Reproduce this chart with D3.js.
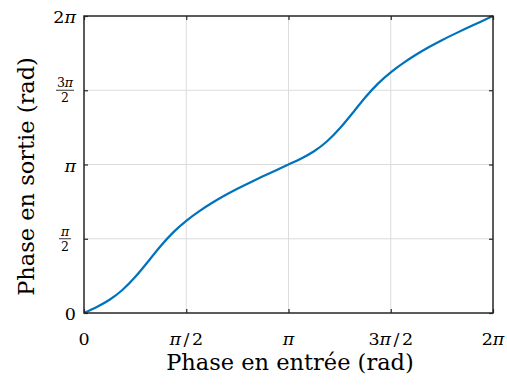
<!DOCTYPE html>
<html>
<head>
<meta charset="utf-8">
<script src="https://cdn.jsdelivr.net/npm/d3@7"></script>
<style>
  html, body { margin: 0; padding: 0; background: #fff; }
  svg { display: block; }
</style>
</head>
<body>
<svg id="chart" width="507" height="385"></svg>
<script>
// ---- data ----
const PI = Math.PI;
// input phase, in units of pi/16
const inputSteps = [0,1,2,3,4,5,6,7,8,9,10,11,12,13,14,15,16,17,18,19,20,21,22,23,24,25,26,27,28,29,30,31,32];
// output phase (rad)
const outputPhase = [0.000,0.127,0.280,0.486,0.760,1.084,1.417,1.711,1.950,2.150,2.326,2.485,2.630,2.763,2.891,3.016,3.1416,
                     3.269,3.422,3.628,3.902,4.226,4.559,4.853,5.092,5.292,5.468,5.627,5.772,5.905,6.033,6.158,6.2832];
const xTickValues = [0, PI/2, PI, 3*PI/2, 2*PI];
const xTickLabels = ["0", "π/2", "π", "3π/2", "2π"];
const yTickValues = [0, PI/2, PI, 3*PI/2, 2*PI];
const yTickLabels = ["0", "π/2", "π", "3π/2", "2π"];
const xTitle = "Phase en entrée (rad)";
const yTitle = "Phase en sortie (rad)";

const FONT = "'DejaVu Serif', 'Liberation Serif', serif";

// ---- layout ----
const svg = d3.select("#chart");
const L = 84, R = 493, T = 16, B = 313;
const x = d3.scaleLinear().domain([0, 2*PI]).range([L, R]);
const y = d3.scaleLinear().domain([0, 2*PI]).range([B, T]);

// grid
const grid = svg.append("g");
grid.selectAll("line.gx").data(xTickValues.slice(1, -1)).join("line")
  .attr("x1", d => x(d)).attr("x2", d => x(d)).attr("y1", T).attr("y2", B)
  .attr("stroke", "#dcdcdc").attr("stroke-width", 1);
grid.selectAll("line.gy").data(yTickValues.slice(1, -1)).join("line")
  .attr("y1", d => y(d)).attr("y2", d => y(d)).attr("x1", L).attr("x2", R)
  .attr("stroke", "#dcdcdc").attr("stroke-width", 1);

// curve
const pts = inputSteps.map((k, i) => [k * PI / 16, outputPhase[i]]);
svg.append("path").datum(pts)
  .attr("fill", "none").attr("stroke", "#0072BD").attr("stroke-width", 2.2)
  .attr("d", d3.line().x(d => x(d[0])).y(d => y(d[1])).curve(d3.curveNatural));

// axes (inward ticks, all 4 sides)
function styleAxis(g) {
  g.selectAll("path.domain").remove();
  g.selectAll(".tick line").attr("stroke", "#262626").attr("stroke-width", 1.2);
  g.selectAll(".tick text").remove();
}
svg.append("g").attr("transform", `translate(0,${B})`)
  .call(d3.axisBottom(x).tickValues(xTickValues).tickSize(-4).tickSizeOuter(0)).call(styleAxis);
svg.append("g").attr("transform", `translate(0,${T})`)
  .call(d3.axisTop(x).tickValues(xTickValues).tickSize(-4).tickSizeOuter(0)).call(styleAxis);
svg.append("g").attr("transform", `translate(${L},0)`)
  .call(d3.axisLeft(y).tickValues(yTickValues).tickSize(-4).tickSizeOuter(0)).call(styleAxis);
svg.append("g").attr("transform", `translate(${R},0)`)
  .call(d3.axisRight(y).tickValues(yTickValues).tickSize(-4).tickSizeOuter(0)).call(styleAxis);

svg.append("rect").attr("x", L).attr("y", T).attr("width", R - L).attr("height", B - T)
  .attr("fill", "none").attr("stroke", "#262626").attr("stroke-width", 1.5);

// math text helper: pi italic, spaced slash
function mathText(sel, str) {
  let afterSlash = false;
  for (const ch of str) {
    const t = sel.append("tspan").text(ch);
    if (ch === "π") t.attr("font-style", "italic");
    if (ch === "/") { t.attr("dx", 2.5); afterSlash = true; }
    else if (afterSlash) { t.attr("dx", 2.5); afterSlash = false; }
  }
}

// x tick labels
xTickValues.forEach((v, i) => {
  const t = svg.append("text").attr("x", x(v)).attr("y", 345)
    .attr("text-anchor", "middle").attr("font-family", FONT).attr("font-size", 17.5);
  mathText(t, xTickLabels[i]);
});

// y tick labels (fractions stacked)
yTickValues.forEach((v, i) => {
  const s = yTickLabels[i];
  const cy = y(v);
  if (s.indexOf("/") >= 0) {
    const [num, den] = s.split("/");
    const cx = 65;
    const hw = num.length > 1 ? 9 : 6;
    const nt = svg.append("text").attr("x", cx).attr("y", cy - 3).attr("text-anchor", "middle")
      .attr("font-family", FONT).attr("font-size", 12.5);
    mathText(nt, num);
    svg.append("line").attr("x1", cx - hw).attr("x2", cx + hw)
      .attr("y1", cy).attr("y2", cy).attr("stroke", "#000").attr("stroke-width", 0.8);
    svg.append("text").attr("x", cx).attr("y", cy + 12).attr("text-anchor", "middle")
      .attr("font-family", FONT).attr("font-size", 12.5).text(den);
  } else {
    const t = svg.append("text").attr("x", 76).attr("y", cy + 7).attr("text-anchor", "end")
      .attr("font-family", FONT).attr("font-size", 17.5);
    mathText(t, s);
  }
});

// titles
svg.append("text").attr("x", 290).attr("y", 370).attr("text-anchor", "middle")
  .attr("font-family", FONT).attr("font-size", 22.5).text(xTitle);
svg.append("text").attr("transform", `translate(34,${(T + B) / 2 + 12}) rotate(-90)`).attr("text-anchor", "middle")
  .attr("font-family", FONT).attr("font-size", 22.5).text(yTitle);
</script>
</body>
</html>
